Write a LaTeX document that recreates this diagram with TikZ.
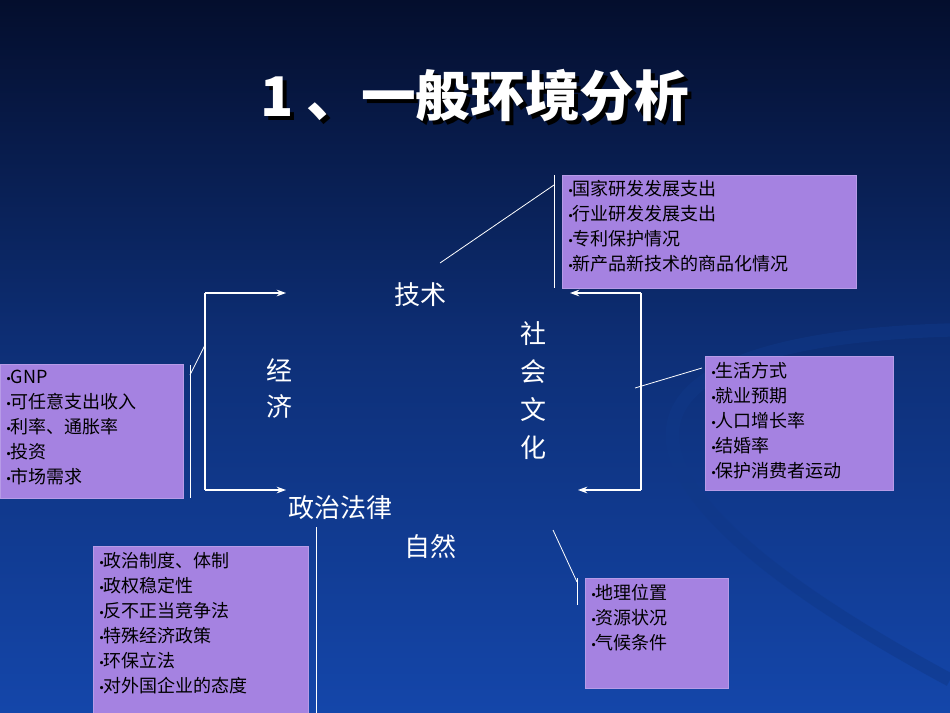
\documentclass[tikz,border=0pt]{standalone}
\usepackage{fontspec}
\setmainfont{Liberation Serif}
\newfontfamily\cjk{Noto Sans CJK SC}
\newcommand{\bul}{{\rmfamily\fontsize{10pt}{10pt}\selectfont •}}
\usetikzlibrary{arrows.meta}
\definecolor{bgtop}{RGB}{4,14,45}
\definecolor{bgbot}{RGB}{20,70,170}
\definecolor{boxfill}{RGB}{165,130,225}
\tikzset{
  infobox/.style={fill=boxfill, draw=boxfill!80!white, line width=0.6pt},
  boxtext/.style={anchor=north west, align=left, inner sep=0pt, font=\cjk\fontsize{13.5pt}{18.75pt}\selectfont, text=black},
  biglabel/.style={text=white, font=\cjk\fontsize{19.5pt}{24pt}\selectfont},
  wline/.style={white, line width=0.8pt},
  warrow/.style={white, line width=1pt, -{Stealth[length=7pt,width=5pt]}}
}
\begin{document}
\begin{tikzpicture}[x=0.75pt,y=-0.75pt]
\shade[top color=bgtop, bottom color=bgbot, middle color=bgbot!60!bgtop] (0,0) rectangle (950,713);
\useasboundingbox (0,0) rectangle (950,713);
\draw[bgbot!80!black, line width=10pt, opacity=0.5] (950,330) .. controls (600,340) and (560,470) .. (950,680);
% title
\node[text=black, font=\cjk\bfseries\fontsize{41pt}{46pt}\selectfont] at (479,100) {1 、一般环境分析};
\node (title) [text=white, font=\cjk\bfseries\fontsize{41pt}{46pt}\selectfont] at (475,96) {1 、一般环境分析};
% labels
\node (tech) [biglabel] at (420,295) {技术};
\node (econ) [biglabel, align=center, font=\cjk\fontsize{19.5pt}{27pt}\selectfont] at (279,388) {经\\济};
\node (soc) [biglabel, align=center, font=\cjk\fontsize{19.5pt}{28.5pt}\selectfont] at (533,391) {社\\会\\文\\化};
\node (pol) [biglabel] at (340,508) {政治法律};
\node (nat) [biglabel] at (430,547) {自然};
% boxes
\fill[infobox] (562,175) rectangle (856,288);
\node (btech) [boxtext] at (568,180) {\bul{}国家研发发展支出\\\bul{}行业研发发展支出\\\bul{}专利保护情况\\\bul{}新产品新技术的商品化情况};
\fill[infobox] (705,356) rectangle (893,490);
\node (bsoc) [boxtext] at (711,362) {\bul{}生活方式\\\bul{}就业预期\\\bul{}人口增长率\\\bul{}结婚率\\\bul{}保护消费者运动};
\fill[infobox] (0,364) rectangle (183,498);
\node (becon) [boxtext] at (6,370) {\bul{}GNP\\\bul{}可任意支出收入\\\bul{}利率、通胀率\\\bul{}投资\\\bul{}市场需求};
\fill[infobox] (93,546) rectangle (308,716);
\node (bpol) [boxtext] at (99,552) {\bul{}政治制度、体制\\\bul{}政权稳定性\\\bul{}反不正当竞争法\\\bul{}特殊经济政策\\\bul{}环保立法\\\bul{}对外国企业的态度};
\fill[infobox] (585,578) rectangle (728,688);
\node (bnat) [boxtext] at (591,584) {\bul{}地理位置\\\bul{}资源状况\\\bul{}气候条件};
% brackets
\coordinate (lt) at (205,293); \coordinate (lb) at (205,490);
\coordinate (lta) at (286,293); \coordinate (lba) at (286,490);
\coordinate (rt) at (641,293); \coordinate (rb) at (641,490);
\coordinate (rta) at (570,293); \coordinate (rba) at (578,490);
\draw[wline] (lt) -- (lb);
\draw[warrow] (lt) -- (lta);
\draw[warrow] (lb) -- (lba);
\draw[wline] (rt) -- (rb);
\draw[warrow] (rt) -- (rta);
\draw[warrow] (rb) -- (rba);
% callout lines
\coordinate (c1) at (440,263); \coordinate (c2) at (554,185);
\coordinate (c3) at (554,175); \coordinate (c4) at (554,288);
\draw[wline, line width=0.6pt] (c1) -- (c2);
\draw[wline, line width=0.6pt] (c3) -- (c4);
\coordinate (s1) at (635,388); \coordinate (s2) at (702,368);
\draw[wline, line width=0.6pt] (s1) -- (s2);
\coordinate (e1) at (205,345); \coordinate (e2) at (190,375);
\coordinate (e3) at (190,365); \coordinate (e4) at (190,498);
\draw[wline, line width=0.6pt] (e1) -- (e2);
\draw[wline, line width=0.6pt] (e3) -- (e4);
\coordinate (p1) at (316,527); \coordinate (p2) at (316,713);
\draw[wline, line width=0.6pt] (p1) -- (p2);
\coordinate (n1) at (553,530); \coordinate (n2) at (577,582);
\coordinate (n3) at (577,578); \coordinate (n4) at (577,605);
\draw[wline, line width=0.6pt] (n1) -- (n2);
\draw[wline, line width=0.6pt] (n3) -- (n4);
\end{tikzpicture}
\end{document}
